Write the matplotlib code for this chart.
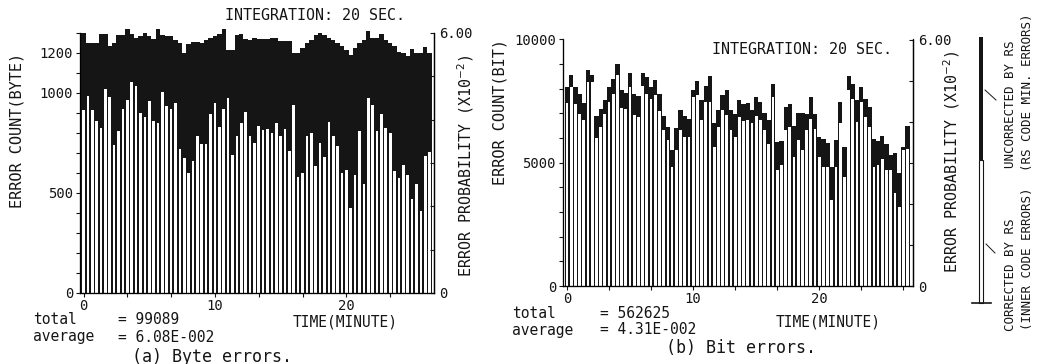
import numpy as np
import matplotlib
matplotlib.use('Agg')
import matplotlib.pyplot as plt

plt.rcParams['font.family'] = ['DejaVu Sans Mono', 'DejaVu Sans']

W, H = 1040, 364

# ── data: 20-second bins ─────────────────────────────────────────────────────
byte_corr = [915, 985, 915, 860, 827, 1020, 980, 740, 808, 918, 965, 1053, 1037, 898, 882, 960, 862, 848, 1003, 935,
             918, 948, 720, 673, 598, 658, 783, 745, 745, 893, 948, 832, 918, 973, 690, 783, 848, 903, 783, 748, 835,
             815, 820, 798, 852, 785, 818, 710, 940, 580, 598, 785, 802, 637, 752, 682, 857, 785, 737, 598, 615, 425,
             590, 808, 545, 975, 940, 808, 895, 825, 802, 610, 573, 640, 590, 470, 543, 410, 685, 703]
byte_total = [1302, 1248, 1248, 1248, 1293, 1293, 1235, 1248, 1290, 1290, 1318, 1293, 1277, 1285, 1302, 1285, 1268,
              1318, 1290, 1285, 1285, 1265, 1248, 1198, 1245, 1257, 1257, 1252, 1265, 1273, 1285, 1293, 1318, 1215,
              1215, 1290, 1293, 1270, 1263, 1273,
              1268, 1268, 1268, 1275, 1275, 1262, 1262, 1262, 1200, 1200, 1223, 1250, 1267, 1290, 1298, 1290, 1275,
              1267, 1250, 1233, 1215,
              1190, 1225, 1250, 1265, 1312, 1277, 1277, 1295, 1265, 1250, 1233, 1205, 1200, 1187, 1220, 1200, 1200,
              1230, 1200]

bit_corr = [7425, 8073, 7390, 6993, 6723, 8275, 8275, 6022, 6453, 6993, 7465, 7803, 8550, 7236, 7195, 8073, 6938,
            6858, 8120, 7803, 7600,
            7735, 7100, 6318, 5913, 4833, 5508, 6318, 6048, 6048, 7668, 7735, 6723, 7465, 7465, 5643, 6453, 7128,
            6938, 6318, 6048, 6858,
            6700, 6750, 6615, 6885, 6750, 6318, 5778, 7668, 4698, 4900, 6318, 6453, 5238, 5913, 5508, 6318, 6790,
            6380, 5238, 4833, 4833,
            3483, 4833, 6615, 4428, 7938, 7600, 6655, 7465, 6858, 6453, 4833, 4900, 5150, 4698, 4698, 3780, 3213,
            5508, 5550]
bit_total = [8073, 8550, 8073, 7803, 7425, 8775, 8550, 6885, 7200, 7560, 8073, 8410, 9018, 7938, 7830, 8640, 7803,
             7695, 8640, 8460, 8073,
             8340, 7800, 6885, 6450, 5508, 6400, 7155, 6915, 6780, 7965, 8302, 7533, 8100, 8505, 6600, 7128, 7735,
             7965, 7155, 6993, 7560,
             7400, 7425, 7150, 7668, 7465, 7020, 6723, 8208, 5845, 5900, 7263, 7400, 6500, 7000, 7000, 6993, 7668,
             6993, 6048, 5963, 5800,
             4833, 5913, 7465, 5643, 8505, 8190, 7560, 8073, 7600, 7263, 5963, 5900, 6100, 5770, 5300, 5400, 4575,
             5643, 6500]

x_labels = ['0', '', '', '10', '', '', '20', '', '']
stats_a = ('= 99089', '= 6.08E-002')
stats_b = ('= 562625', '= 4.31E-002')

INK = '#151515'


def rect(l, t, r, b):
    return [l / W, 1 - b / H, (r - l) / W, (b - t) / H]


def put(x, y, s, **kw):
    fig.text(x / W, 1 - y / H, s, color=INK, **kw)


fig = plt.figure(figsize=(W / 100, H / 100), dpi=100)
fig.patch.set_facecolor('white')


def panel(box, corr, total, ymax, ystep, ylabels, xlim, white_w):
    ax = fig.add_axes(box)
    idx = np.arange(len(corr))
    ax.bar(idx, total, width=1.0, color=INK, linewidth=0, clip_on=False)
    ax.bar(idx, corr, width=white_w, color='white', linewidth=0)
    ax.set_xlim(*xlim)
    ax.set_ylim(0, ymax)
    yt = np.arange(0, ymax + 1, ystep)
    ax.set_yticks(yt)
    ax.set_yticklabels([ylabels.get(int(v), '') for v in yt], fontsize=10)
    xt = np.arange(0, len(corr), 10)
    ax.set_xticks(xt)
    ax.set_xticklabels(x_labels[:len(xt)], fontsize=10)
    ax.tick_params(axis='both', direction='out', length=3, width=0.8, pad=1, colors=INK)
    ax.tick_params(axis='y', pad=2)
    ax.spines['top'].set_visible(False)
    for s in ('left', 'bottom', 'right'):
        ax.spines[s].set_linewidth(0.9)
        ax.spines[s].set_color(INK)
    ax.patch.set_alpha(0)

    ar = ax.twinx()
    ar.set_ylim(0, 6)
    ar.set_yticks(range(7))
    ar.set_yticklabels(['0', '', '', '', '', '', '6.00'], fontsize=10)
    ar.tick_params(axis='y', direction='in', length=3, width=0.8, pad=4, colors=INK)
    ar.spines['top'].set_visible(False)
    ar.spines['right'].set_linewidth(0.9)
    return ax


# ── (a) byte errors ──────────────────────────────────────────────────────────
panel(rect(80, 33, 434, 293), byte_corr, byte_total, 1300, 100,
      {0: '0', 500: '500', 1000: '1000', 1200: '1200'}, (-0.8, 80.0), 0.6)
put(315, 15, 'INTEGRATION: 20 SEC.', fontsize=10.8, ha='center', va='center')
put(17, 130, 'ERROR COUNT(BYTE)', fontsize=11, rotation=90, ha='center', va='center')
put(466, 166, 'ERROR PROBABILITY (X10$^{-2}$)', fontsize=10.8, rotation=90, ha='center', va='center')
put(33, 320, 'total', fontsize=10.5, va='center')
put(33, 337, 'average', fontsize=10.5, va='center')
put(118, 320, stats_a[0], fontsize=10.5, va='center')
put(118, 337, stats_a[1], fontsize=10.5, va='center')
put(345, 322, 'TIME(MINUTE)', fontsize=10.5, ha='center', va='center')
put(212, 357, '(a) Byte errors.', fontsize=12, ha='center', va='center')

# ── (b) bit errors ───────────────────────────────────────────────────────────
panel(rect(563, 39.5, 913, 286), bit_corr, bit_total, 10000, 1000,
      {0: '0', 5000: '5000', 10000: '10000'}, (-0.95, 82.3), 0.66)
put(802, 50, 'INTEGRATION: 20 SEC.', fontsize=10.8, ha='center', va='center')
put(500, 112, 'ERROR COUNT(BIT)', fontsize=11, rotation=90, ha='center', va='center')
put(952, 162, 'ERROR PROBABILITY (X10$^{-2}$)', fontsize=10.8, rotation=90, ha='center', va='center')
put(512, 313, 'total', fontsize=10.5, va='center')
put(512, 330, 'average', fontsize=10.5, va='center')
put(600, 313, stats_b[0], fontsize=10.5, va='center')
put(600, 330, stats_b[1], fontsize=10.5, va='center')
put(828, 322, 'TIME(MINUTE)', fontsize=10.5, ha='center', va='center')
put(741, 348, '(b) Bit errors.', fontsize=12, ha='center', va='center')

# ── key bar on the right ────────────────────────────────────────────────────
lg = fig.add_axes([0, 0, 1, 1])
lg.set_xlim(0, W)
lg.set_ylim(H, 0)
lg.axis('off')
lg.add_patch(plt.Rectangle((979, 37), 4, 123, color=INK, lw=0))
lg.add_patch(plt.Rectangle((979, 160), 4, 143, facecolor='white', edgecolor=INK, lw=0.8))
lg.plot([972, 991], [303, 303], color=INK, lw=1.2)
lg.plot([985, 996], [90, 100], color=INK, lw=0.7)
lg.plot([986, 995], [244, 253], color=INK, lw=0.7)
put(1010, 104, 'UNCORRECTED BY RS', fontsize=9, rotation=90, ha='center', va='center')
put(1010, 275, 'CORRECTED BY RS', fontsize=9, rotation=90, ha='center', va='center')
put(1028, 92, '(RS CODE MIN. ERRORS)', fontsize=9, rotation=90, ha='center', va='center')
put(1028, 259, '(INNER CODE ERRORS)', fontsize=9, rotation=90, ha='center', va='center')

fig.savefig('out.png', dpi=100, facecolor='white')
